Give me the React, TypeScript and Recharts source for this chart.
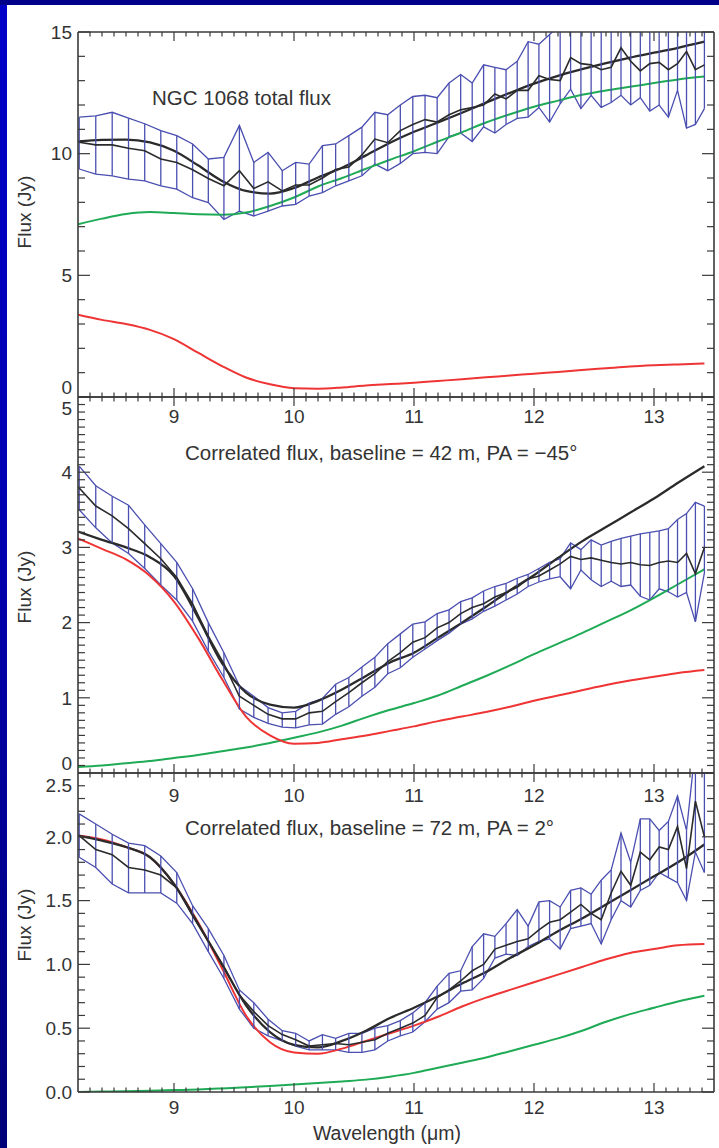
import React from 'react';
import { ComposedChart, Line, XAxis, YAxis, ErrorBar } from 'recharts';

const FONT = "'Liberation Sans', Arial, Helvetica, sans-serif";
const TEXT = '#333333';
const FRAME = '#3a3a3a';
const BLUE = '#4a4fb0';
const BLACK = '#2b2b2b';
const GREEN = '#1fab55';
const RED = '#ee3434';

// Spectral channels (µm)
const wavelength = [8.21, 8.348, 8.485, 8.621, 8.756, 8.89, 9.023, 9.155, 9.286, 9.416, 9.545, 9.665, 9.784, 9.902, 10.014, 10.126, 10.237, 10.347, 10.457, 10.566, 10.674, 10.781, 10.886, 10.99, 11.092, 11.193, 11.292, 11.389, 11.485, 11.58, 11.674, 11.767, 11.86, 11.951, 12.041, 12.13, 12.218, 12.305, 12.391, 12.476, 12.56, 12.643, 12.725, 12.806, 12.886, 12.965, 13.043, 13.12, 13.196, 13.271, 13.345, 13.42];

// NGC 1068 total flux (Jy) with upper / lower error envelope
const totalFlux = [10.47, 10.36, 10.36, 10.22, 10.12, 9.78, 9.64, 9.34, 8.98, 8.68, 9.3, 8.57, 8.84, 8.47, 8.71, 8.71, 9.0, 9.35, 9.45, 9.95, 10.6, 10.45, 10.95, 11.2, 11.4, 11.3, 11.6, 11.8, 11.9, 12.0, 12.45, 12.25, 12.6, 12.6, 13.2, 13.05, 13.0, 13.95, 13.7, 13.65, 13.45, 13.55, 14.35, 13.8, 13.4, 13.7, 13.75, 13.45, 13.7, 14.2, 13.45, 13.65];
const totalFluxHigh = [11.5, 11.55, 11.7, 11.46, 11.23, 10.95, 10.74, 10.4, 9.78, 9.85, 11.16, 9.64, 10.05, 9.3, 9.64, 9.57, 10.33, 10.4, 10.74, 11.09, 11.7, 11.6, 12.0, 12.35, 12.4, 12.3, 12.9, 13.25, 12.9, 13.65, 13.55, 13.45, 13.8, 14.6, 14.5, 14.9, 15.3, 15.6, 15.2, 15.5, 15.1, 15.4, 15.8, 15.3, 15.2, 15.5, 15.6, 15.3, 15.5, 16.0, 15.4, 15.6];
const totalFluxLow = [9.37, 9.16, 9.09, 8.95, 8.88, 8.68, 8.54, 8.19, 7.99, 7.3, 7.64, 7.44, 7.64, 7.85, 7.92, 8.26, 8.4, 8.68, 8.88, 9.09, 9.57, 9.3, 9.6, 10.0, 10.05, 10.0, 10.7, 10.85, 10.5, 11.1, 10.85, 11.2, 11.45, 11.5, 11.9, 11.3, 12.05, 12.65, 11.85, 12.4, 11.9, 12.1, 12.4, 12.0, 12.3, 11.75, 12.0, 11.5, 12.6, 11.05, 11.2, 11.85];

// Correlated flux, 42 m baseline (Jy)
const corr42Flux = [3.79, 3.55, 3.42, 3.25, 3.05, 2.85, 2.6, 2.25, 1.82, 1.45, 1.02, 0.9, 0.78, 0.72, 0.72, 0.8, 0.82, 0.95, 1.07, 1.2, 1.32, 1.48, 1.6, 1.74, 1.8, 1.93, 2.0, 2.12, 2.2, 2.25, 2.34, 2.4, 2.47, 2.58, 2.62, 2.7, 2.78, 2.88, 2.84, 2.86, 2.83, 2.8, 2.78, 2.8, 2.77, 2.76, 2.8, 2.82, 2.8, 2.92, 2.65, 3.0];
const corr42High = [4.08, 3.82, 3.68, 3.56, 3.3, 3.05, 2.8, 2.45, 2.0, 1.6, 1.16, 1.02, 0.87, 0.8, 0.82, 0.93, 0.99, 1.18, 1.27, 1.41, 1.54, 1.72, 1.85, 1.98, 2.01, 2.12, 2.17, 2.28, 2.33, 2.42, 2.48, 2.52, 2.59, 2.64, 2.72, 2.8, 2.85, 3.06, 2.97, 3.1, 3.03, 3.08, 3.12, 3.15, 3.18, 3.2, 3.22, 3.25, 3.37, 3.45, 3.6, 3.55];
const corr42Low = [3.5, 3.26, 3.06, 2.92, 2.72, 2.5, 2.3, 2.02, 1.62, 1.27, 0.85, 0.74, 0.66, 0.61, 0.6, 0.64, 0.65, 0.78, 0.88, 1.02, 1.14, 1.32, 1.4, 1.54, 1.65, 1.76, 1.86, 1.98, 2.05, 2.15, 2.22, 2.3, 2.38, 2.48, 2.54, 2.58, 2.61, 2.45, 2.7, 2.57, 2.48, 2.55, 2.48, 2.5, 2.35, 2.3, 2.45, 2.41, 2.34, 2.4, 2.01, 2.66];

// Correlated flux, 72 m baseline (Jy)
const corr72Flux = [2.01, 1.9, 1.86, 1.76, 1.74, 1.7, 1.6, 1.38, 1.18, 0.98, 0.76, 0.63, 0.52, 0.45, 0.41, 0.36, 0.37, 0.38, 0.37, 0.39, 0.41, 0.46, 0.5, 0.54, 0.6, 0.74, 0.8, 0.87, 0.95, 1.0, 1.12, 1.15, 1.18, 1.2, 1.27, 1.33, 1.35, 1.41, 1.47, 1.4, 1.35, 1.56, 1.73, 1.62, 1.88, 1.82, 1.92, 1.9, 2.08, 1.75, 2.28, 2.0];
const corr72High = [2.18, 2.1, 2.02, 1.95, 1.93, 1.85, 1.72, 1.46, 1.28, 1.07, 0.8, 0.7, 0.57, 0.48, 0.46, 0.4, 0.45, 0.42, 0.46, 0.46, 0.5, 0.52, 0.56, 0.62, 0.7, 0.83, 0.93, 0.95, 1.14, 1.24, 1.22, 1.32, 1.43, 1.3, 1.49, 1.5, 1.45, 1.58, 1.6, 1.55, 1.66, 1.74, 2.03, 1.8, 2.14, 2.14, 2.05, 2.12, 2.32, 2.05, 2.7, 2.65];
const corr72Low = [1.84, 1.76, 1.63, 1.56, 1.56, 1.56, 1.48, 1.32, 1.1, 0.89, 0.65, 0.5, 0.44, 0.4, 0.36, 0.33, 0.33, 0.33, 0.31, 0.31, 0.33, 0.4, 0.44, 0.47, 0.55, 0.65, 0.7, 0.79, 0.8, 0.89, 1.05, 1.08, 1.07, 1.14, 1.18, 1.2, 1.12, 1.28, 1.3, 1.32, 1.16, 1.35, 1.5, 1.45, 1.58, 1.62, 1.72, 1.68, 1.64, 1.5, 1.88, 1.72];

// Two-component model grid (µm)
const modelWavelength = [8.2, 8.4, 8.6, 8.8, 9.0, 9.2, 9.4, 9.6, 9.8, 10.0, 10.2, 10.4, 10.6, 10.8, 11.0, 11.2, 11.4, 11.6, 11.8, 12.0, 12.2, 12.4, 12.6, 12.8, 13.0, 13.2, 13.42];

const totalModel = [10.5, 10.57, 10.58, 10.46, 10.12, 9.52, 8.88, 8.47, 8.36, 8.59, 9.02, 9.42, 9.93, 10.45, 10.9, 11.28, 11.68, 12.1, 12.5, 12.88, 13.2, 13.47, 13.72, 13.95, 14.15, 14.35, 14.6];
const totalWarm = [7.1, 7.33, 7.52, 7.6, 7.56, 7.51, 7.49, 7.58, 7.85, 8.2, 8.65, 9.0, 9.38, 9.75, 10.1, 10.5, 10.88, 11.28, 11.62, 11.93, 12.18, 12.42, 12.6, 12.75, 12.9, 13.05, 13.17];
const totalHot = [3.38, 3.17, 3.0, 2.76, 2.38, 1.82, 1.27, 0.8, 0.52, 0.36, 0.34, 0.39, 0.47, 0.53, 0.59, 0.66, 0.73, 0.81, 0.88, 0.96, 1.03, 1.11, 1.18, 1.25, 1.3, 1.34, 1.38];

const corr42Model = [3.21, 3.1, 3.0, 2.87, 2.62, 2.07, 1.46, 1.07, 0.91, 0.87, 0.96, 1.11, 1.29, 1.47, 1.6, 1.8, 2.0, 2.21, 2.43, 2.63, 2.86, 3.08, 3.27, 3.46, 3.65, 3.86, 4.08];
const corr42Warm = [0.08, 0.1, 0.13, 0.16, 0.2, 0.24, 0.29, 0.34, 0.4, 0.47, 0.54, 0.63, 0.74, 0.84, 0.93, 1.03, 1.16, 1.29, 1.43, 1.58, 1.72, 1.86, 2.01, 2.16, 2.33, 2.51, 2.71];
const corr42Hot = [3.12, 2.98, 2.84, 2.62, 2.28, 1.8, 1.25, 0.75, 0.5, 0.39, 0.4, 0.45, 0.5, 0.56, 0.62, 0.69, 0.75, 0.81, 0.88, 0.96, 1.03, 1.1, 1.17, 1.23, 1.28, 1.33, 1.37];

const corr72Model = [2.01, 1.97, 1.92, 1.84, 1.63, 1.32, 1.0, 0.68, 0.47, 0.37, 0.35, 0.4, 0.48, 0.58, 0.66, 0.75, 0.85, 0.94, 1.05, 1.15, 1.26, 1.36, 1.47, 1.58, 1.69, 1.8, 1.94];
const corr72Warm = [0.0, 0.003, 0.006, 0.01, 0.015, 0.02, 0.028, 0.037, 0.047, 0.058, 0.07, 0.083, 0.097, 0.12, 0.15, 0.19, 0.23, 0.27, 0.32, 0.37, 0.42, 0.48, 0.55, 0.61, 0.66, 0.71, 0.755];
const corr72Hot = [2.01, 1.98, 1.92, 1.84, 1.63, 1.33, 0.97, 0.6, 0.39, 0.31, 0.3, 0.34, 0.4, 0.46, 0.52, 0.59, 0.67, 0.74, 0.8, 0.86, 0.92, 0.98, 1.04, 1.09, 1.12, 1.15, 1.16];

// Axis tick labels
const xTickLabels = [9, 10, 11, 12, 13];
const totalTicks = [0, 5, 10, 15];
const corr42Ticks = [0, 1, 2, 3, 4, 5];
const corr72Ticks = [0, 0.5, 1.0, 1.5, 2.0, 2.5];

const X_DOMAIN: [number, number] = [8.2, 13.5];

function steps(start: number, end: number, step: number): number[] {
  const n = Math.round((end - start) / step);
  const out: number[] = [];
  for (let i = 0; i <= n; i++) out.push(Number((start + i * step).toFixed(4)));
  return out;
}

const near = (list: number[], v: number) => list.some((t) => Math.abs(t - v) < 1e-6);

type PanelProps = {
  top: number;
  height: number;
  marginTop: number;
  marginBottom: number;
  flux: number[];
  high: number[];
  low: number[];
  model: number[];
  warm: number[];
  hot: number[];
  yMax: number;
  yMajor: number[];
  yMinorStep: number;
  decimals: number;
  xLabelOffset: number;
  topLabelShift: number;
  bottomLabelShift: number;
};

function Panel(p: PanelProps) {
  const rows = wavelength.map((wl, i) => ({
    wl,
    flux: p.flux[i],
    high: p.high[i],
    low: p.low[i],
    err: [p.flux[i] - p.low[i], Math.min(p.high[i], p.yMax) - p.flux[i]],
  }));
  const modelRows = modelWavelength.map((wl, i) => ({
    wl,
    model: p.model[i],
    warm: p.warm[i],
    hot: p.hot[i],
  }));

  const xTicks = steps(8.3, 13.4, 0.1);
  const yTicks = steps(0, p.yMax, p.yMinorStep);

  const textStyle = { fontFamily: FONT, fill: TEXT } as const;

  const bottomTick = (props: any) => {
    const { x, y, payload } = props;
    const major = near(xTickLabels, payload.value);
    return (
      <g>
        <line x1={x} x2={x} y1={y} y2={y - (major ? 9 : 4.5)} stroke={FRAME} strokeWidth={1.2} />
        {major && (
          <text x={x} y={y + p.xLabelOffset} textAnchor="middle" fontSize={19} style={textStyle}>
            {payload.value}
          </text>
        )}
      </g>
    );
  };

  const topTick = (props: any) => {
    const { x, y, payload } = props;
    const major = near(xTickLabels, payload.value);
    return <line x1={x} x2={x} y1={y} y2={y + (major ? 9 : 4.5)} stroke={FRAME} strokeWidth={1.2} />;
  };

  const leftTick = (props: any) => {
    const { x, y, payload } = props;
    const v = payload.value;
    const major = near(p.yMajor, v);
    let shift = 0;
    if (Math.abs(v - p.yMax) < 1e-6) shift = p.topLabelShift;
    if (Math.abs(v) < 1e-6) shift = p.bottomLabelShift;
    return (
      <g>
        <line x1={x} x2={x + (major ? 12 : 7)} y1={y} y2={y} stroke={FRAME} strokeWidth={1.2} />
        {major && (
          <text x={x - 6} y={y + 6.8 + shift} textAnchor="end" fontSize={19} style={textStyle}>
            {v.toFixed(p.decimals)}
          </text>
        )}
      </g>
    );
  };

  const rightTick = (props: any) => {
    const { x, y, payload } = props;
    const major = near(p.yMajor, payload.value);
    return <line x1={x} x2={x - (major ? 12 : 7)} y1={y} y2={y} stroke={FRAME} strokeWidth={1.2} />;
  };

  const axisLine = { stroke: FRAME, strokeWidth: 1.6 };

  return (
    <div style={{ position: 'absolute', left: 0, top: p.top }}>
      <ComposedChart
        width={719}
        height={p.height}
        margin={{ top: p.marginTop, right: 4, bottom: p.marginBottom, left: 77 }}
      >
        <XAxis
          xAxisId="b"
          type="number"
          dataKey="wl"
          domain={X_DOMAIN}
          allowDataOverflow
          ticks={xTicks}
          interval={0}
          height={1}
          tickSize={0}
          tickMargin={0}
          tickLine={false}
          axisLine={axisLine}
          tick={bottomTick}
        />
        <XAxis
          xAxisId="t"
          orientation="top"
          type="number"
          dataKey="wl"
          domain={X_DOMAIN}
          allowDataOverflow
          ticks={xTicks}
          interval={0}
          height={1}
          tickSize={0}
          tickMargin={0}
          tickLine={false}
          axisLine={axisLine}
          tick={topTick}
        />
        <YAxis
          yAxisId="l"
          type="number"
          domain={[0, p.yMax]}
          allowDataOverflow
          ticks={yTicks}
          interval={0}
          width={1}
          tickSize={0}
          tickMargin={0}
          tickLine={false}
          axisLine={axisLine}
          tick={leftTick}
        />
        <YAxis
          yAxisId="r"
          orientation="right"
          type="number"
          domain={[0, p.yMax]}
          allowDataOverflow
          ticks={yTicks}
          interval={0}
          width={1}
          tickSize={0}
          tickMargin={0}
          tickLine={false}
          axisLine={axisLine}
          tick={rightTick}
        />

        <Line xAxisId="b" yAxisId="l" data={rows} dataKey="high" type="linear" stroke={BLUE} strokeWidth={1.3} dot={false} isAnimationActive={false} />
        <Line xAxisId="b" yAxisId="l" data={rows} dataKey="low" type="linear" stroke={BLUE} strokeWidth={1.3} dot={false} isAnimationActive={false} />

        <Line xAxisId="b" yAxisId="l" data={modelRows} dataKey="warm" type="monotone" stroke={GREEN} strokeWidth={2} dot={false} isAnimationActive={false} />
        <Line xAxisId="b" yAxisId="l" data={modelRows} dataKey="hot" type="monotone" stroke={RED} strokeWidth={2} dot={false} isAnimationActive={false} />
        <Line xAxisId="b" yAxisId="l" data={modelRows} dataKey="model" type="monotone" stroke={BLACK} strokeWidth={2.3} dot={false} isAnimationActive={false} />

        <Line xAxisId="b" yAxisId="l" data={rows} dataKey="flux" type="linear" stroke={BLACK} strokeWidth={1.6} dot={false} isAnimationActive={false}>
          <ErrorBar dataKey="err" width={0} stroke={BLUE} strokeWidth={1.3} direction="y" isAnimationActive={false} />
        </Line>
      </ComposedChart>
    </div>
  );
}

export default function App() {
  const labelStyle = { fontFamily: FONT, fill: TEXT } as const;
  return (
    <div
      style={{
        position: 'absolute',
        left: 0,
        top: 0,
        width: 719,
        height: 1148,
        overflow: 'hidden',
        background:
          'linear-gradient(to bottom, #000088 0px, #000088 5px, #0000c8 5px, #0000b2 45%, #000078 100%)',
      }}
    >
      <div style={{ position: 'absolute', left: 7, top: 5, right: 0, bottom: 0, background: '#ffffff' }} />

      <Panel
        top={0}
        height={437}
        marginTop={31}
        marginBottom={39}
        flux={totalFlux}
        high={totalFluxHigh}
        low={totalFluxLow}
        model={totalModel}
        warm={totalWarm}
        hot={totalHot}
        yMax={15}
        yMajor={totalTicks}
        yMinorStep={1}
        decimals={0}
        xLabelOffset={26}
        topLabelShift={0}
        bottomLabelShift={-10}
      />
      <Panel
        top={360}
        height={453}
        marginTop={36}
        marginBottom={39}
        flux={corr42Flux}
        high={corr42High}
        low={corr42Low}
        model={corr42Model}
        warm={corr42Warm}
        hot={corr42Hot}
        yMax={5}
        yMajor={corr42Ticks}
        yMinorStep={0.1}
        decimals={0}
        xLabelOffset={29}
        topLabelShift={11}
        bottomLabelShift={-10}
      />
      <Panel
        top={740}
        height={408}
        marginTop={32}
        marginBottom={55}
        flux={corr72Flux}
        high={corr72High}
        low={corr72Low}
        model={corr72Model}
        warm={corr72Warm}
        hot={corr72Hot}
        yMax={2.5}
        yMajor={corr72Ticks}
        yMinorStep={0.1}
        decimals={1}
        xLabelOffset={22}
        topLabelShift={12}
        bottomLabelShift={0}
      />

      <svg
        width={719}
        height={1148}
        style={{ position: 'absolute', left: 0, top: 0, pointerEvents: 'none' }}
      >
        <text x={152} y={105} fontSize={20.5} style={labelStyle}>NGC 1068 total flux</text>
        <text x={185} y={460} fontSize={20.5} style={labelStyle}>
          Correlated flux, baseline = 42 m, PA = −45°
        </text>
        <text x={185} y={835} fontSize={20.5} style={labelStyle}>
          Correlated flux, baseline = 72 m, PA = 2°
        </text>
        <text transform="translate(31, 212) rotate(-90)" textAnchor="middle" fontSize={19} style={labelStyle}>Flux (Jy)</text>
        <text transform="translate(31, 587) rotate(-90)" textAnchor="middle" fontSize={19} style={labelStyle}>Flux (Jy)</text>
        <text transform="translate(31, 925) rotate(-90)" textAnchor="middle" fontSize={19} style={labelStyle}>Flux (Jy)</text>
        <text x={387} y={1140} textAnchor="middle" fontSize={19.5} style={labelStyle}>Wavelength (μm)</text>
      </svg>
    </div>
  );
}
